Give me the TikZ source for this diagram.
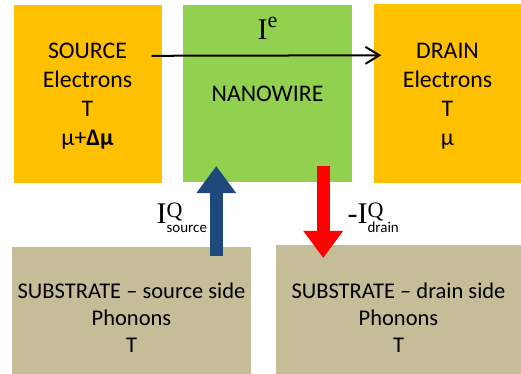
\documentclass[tikz,border=0pt]{standalone}
\usepackage{fontspec}
\setmainfont{Carlito}
\newfontfamily\timesfont{Liberation Serif}
\usetikzlibrary{arrows.meta, calc}
\definecolor{lead}{HTML}{FFC000}
\definecolor{wirefill}{HTML}{92D050}
\definecolor{subst}{HTML}{C4BD97}
\definecolor{heatin}{HTML}{1F497D}
\definecolor{heatout}{HTML}{FF0000}

\newcommand{\bigI}{{\timesfont\fontsize{30}{30}\selectfont I}}
\newcommand{\supQ}[1]{\raisebox{#1}{\timesfont\fontsize{22}{22}\selectfont Q}}
\newcommand{\subtxt}[1]{\raisebox{-9pt}{\fontsize{15}{15}\selectfont #1}}

\begin{document}
\begin{tikzpicture}[
    x=1pt, y=-1pt,
    block/.style={
      rectangle, inner sep=0pt, align=center, text depth=0pt,
      font=\fontsize{23.8}{29}\selectfont
    },
    leadbox/.style={block, fill=lead, minimum width=148pt, minimum height=178pt, text height=104pt},
    wirebox/.style={block, fill=wirefill, minimum width=169pt, minimum height=177pt, text height=17pt},
    subbox/.style={block, fill=subst, font=\fontsize{22.5}{27}\selectfont},
    ecurr/.style={-{Straight Barb[length=14pt, width=17pt]}, line width=2pt, black},
    heat/.style={line width=13pt, -{Triangle[length=27pt, width=40pt, line width=0pt]}},
    lbl/.style={inner sep=0pt, anchor=base}
  ]
  \useasboundingbox (0,0) rectangle (521,374);

  % Blocs
  \node[leadbox] (source) at (87.5, 94)  {SOURCE\\Electrons\\T\\μ+\textbf{Δμ}};
  \node[wirebox] (wire)   at (267.5,93.5) {NANOWIRE};
  \node[leadbox] (drain)  at (447.5,93.5) {DRAIN\\Electrons\\T\\μ};
  \node[subbox, minimum width=239pt, minimum height=127pt, text height=83pt]
    (subL) at (131.5,310.5) {SUBSTRATE – source side\\Phonons\\T};
  \node[subbox, minimum width=245pt, minimum height=129pt, text height=85pt]
    (subR) at (398.5,309.5) {SUBSTRATE – drain side\\Phonons\\T};

  % Courant electronique
  \draw[ecurr] ($(source.north east)+(-10,51)$) -- ($(drain.north west)+(8,51)$);
  \node[lbl] (ie) at ($(wire.north)+(0,35)$)
    {\bigI\raisebox{12pt}{\timesfont\fontsize{22}{22}\selectfont e}};

  % Flux de chaleur
  \draw[heat, heatin]  ($(wire.south west |- subL.north)+(33.5,9)$) -- ($(wire.south west)+(33.5,-16)$);
  \draw[heat, heatout] ($(wire.south east)+(-29,-16)$) -- ($(wire.south east |- subR.north)+(-29,13)$);

  \node[lbl] (iqs) at ($(wire.south west)+(-1,41)$)
    {\bigI\rlap{\supQ{6pt}}\subtxt{source}};
  \node[lbl] (iqd) at ($(wire.south east)+(21,41)$)
    {{\timesfont\fontsize{30}{30}\selectfont -}\bigI\rlap{\supQ{6pt}}\subtxt{drain}};

\end{tikzpicture}
\end{document}
